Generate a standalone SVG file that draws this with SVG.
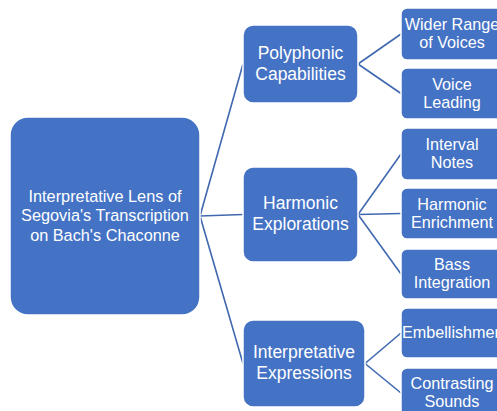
<svg xmlns="http://www.w3.org/2000/svg" width="497" height="411" viewBox="0 0 497 411">
<style>
.box{fill:#4472C4;stroke:#ffffff;stroke-width:1.5}
.t{fill:#ffffff;font-family:"Liberation Sans",Arial,sans-serif;text-anchor:middle}
.r{font-size:16.3px}
.m{font-size:17.5px}
.l{font-size:16.2px}
.c{stroke:#4068B0;stroke-width:1.6;fill:none}
</style>
<rect width="497" height="411" fill="#ffffff"/>
<g id="connectors">
<line class="c" x1="200" y1="216" x2="243" y2="64"/>
<line class="c" x1="200" y1="216" x2="243" y2="214.5"/>
<line class="c" x1="200" y1="216" x2="243" y2="363.5"/>
<line class="c" x1="358" y1="64" x2="401" y2="34"/>
<line class="c" x1="358" y1="64" x2="401" y2="93.5"/>
<line class="c" x1="358" y1="214.5" x2="401" y2="154"/>
<line class="c" x1="358" y1="214.5" x2="401" y2="213.5"/>
<line class="c" x1="358" y1="214.5" x2="401" y2="274"/>
<line class="c" x1="365" y1="363.5" x2="401" y2="333"/>
<line class="c" x1="365" y1="363.5" x2="401" y2="393"/>
</g>
<g id="root">
<rect class="box" x="10" y="117" width="190" height="198" rx="18"/>
<text class="t r" x="105" y="202">Interpretative Lens of</text>
<text class="t r" x="105" y="221">Segovia's Transcription</text>
<text class="t r" x="105" y="241">on Bach's Chaconne</text>
</g>
<g id="polyphonic">
<rect class="box" x="243" y="25" width="115" height="78" rx="10"/>
<text class="t m" x="300.5" y="59">Polyphonic</text>
<text class="t m" x="300.5" y="80">Capabilities</text>
</g>
<g id="harmonic">
<rect class="box" x="243" y="167" width="115" height="95" rx="10"/>
<text class="t m" x="300.5" y="209">Harmonic</text>
<text class="t m" x="300.5" y="230">Explorations</text>
</g>
<g id="interpretative">
<rect class="box" x="243" y="320" width="122" height="87" rx="10"/>
<text class="t m" x="304" y="358">Interpretative</text>
<text class="t m" x="304" y="379">Expressions</text>
</g>
<g id="wider">
<rect class="box" x="401" y="8" width="103" height="52" rx="6"/>
<text class="t l" x="452" y="30">Wider Range</text>
<text class="t l" x="452" y="48">of Voices</text>
</g>
<g id="voice">
<rect class="box" x="401" y="68" width="103" height="51" rx="6"/>
<text class="t l" x="452" y="89.5">Voice</text>
<text class="t l" x="452" y="108">Leading</text>
</g>
<g id="interval">
<rect class="box" x="401" y="128" width="103" height="52" rx="6"/>
<text class="t l" x="452" y="150">Interval</text>
<text class="t l" x="452" y="168">Notes</text>
</g>
<g id="enrichment">
<rect class="box" x="401" y="188" width="103" height="51" rx="6"/>
<text class="t l" x="452" y="210">Harmonic</text>
<text class="t l" x="452" y="228">Enrichment</text>
</g>
<g id="bass">
<rect class="box" x="401" y="249" width="103" height="50" rx="6"/>
<text class="t l" x="452" y="270">Bass</text>
<text class="t l" x="452" y="288">Integration</text>
</g>
<g id="embellishment">
<rect class="box" x="401" y="308" width="103" height="50" rx="6"/>
<text class="t l" x="455" y="338">Embellishment</text>
</g>
<g id="contrasting">
<rect class="box" x="401" y="368" width="103" height="50" rx="6"/>
<text class="t l" x="452" y="389">Contrasting</text>
<text class="t l" x="452" y="407">Sounds</text>
</g>
</svg>
